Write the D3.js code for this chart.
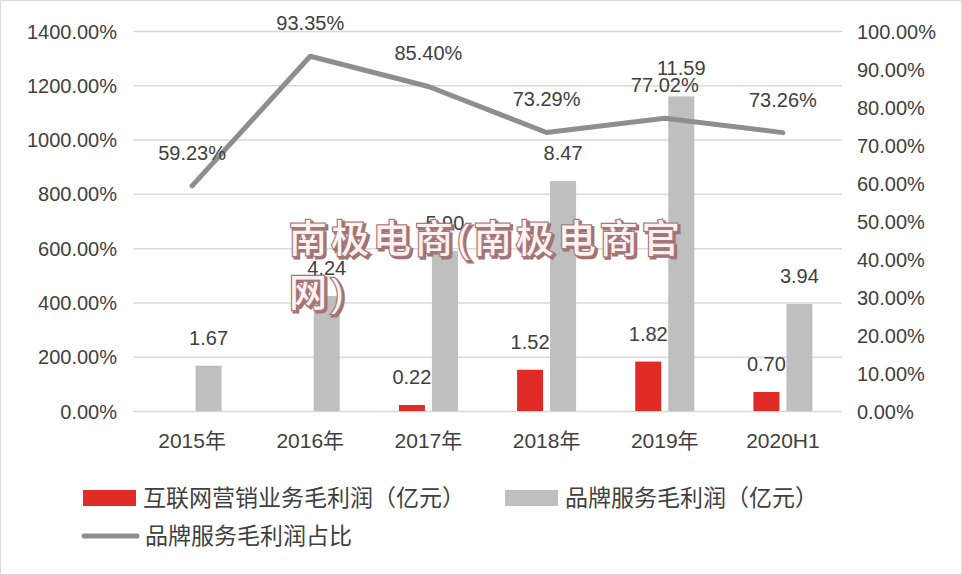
<!DOCTYPE html>
<html><head><meta charset="utf-8">
<script src="https://cdn.jsdelivr.net/npm/d3@7"></script>
<style>
body{margin:0;background:#fff;}
svg text{font-family:"Liberation Sans","Noto Sans CJK SC",sans-serif;fill:#404040;}
</style></head>
<body><svg id="c" width="962" height="575"></svg>
<script>
const categories = ["2015年","2016年","2017年","2018年","2019年","2020H1"];
const internetProfit = [0, 0, 0.22, 1.52, 1.82, 0.70];
const internetLabels = [null, null, "0.22", "1.52", "1.82", "0.70"];
const brandProfit = [1.67, 4.24, 5.90, 8.47, 11.59, 3.94];
const brandShare = [59.23, 93.35, 85.40, 73.29, 77.02, 73.26];
const leftTicks = [0,2,4,6,8,10,12,14];
const rightTicks = [0,10,20,30,40,50,60,70,80,90,100];
const seriesNames = ["互联网营销业务毛利润（亿元）","品牌服务毛利润（亿元）","品牌服务毛利润占比"];

const svg = d3.select("#c");
svg.append("rect").attr("x",0.5).attr("y",0.5).attr("width",961).attr("height",574)
  .attr("fill","#fff").attr("stroke","#d9d9d9");

const L=133, R=842, T=31, B=411;
const x = d3.scaleBand().domain(categories).range([L,R]);
const yL = d3.scaleLinear().domain([0,14]).range([B,T]);
const yR = d3.scaleLinear().domain([0,100]).range([B,T]);

svg.append("g").selectAll("line").data(leftTicks).join("line")
  .attr("x1",L).attr("x2",R).attr("y1",d=>yL(d)+0.5).attr("y2",d=>yL(d)+0.5)
  .attr("stroke","#d9d9d9").attr("stroke-width",1.5);

const axL = svg.append("g").attr("transform",`translate(${L-16},0)`)
  .call(d3.axisLeft(yL).tickValues(leftTicks).tickSize(0).tickPadding(0)
    .tickFormat(d=>d3.format(".2f")(d*100)+"%"));
axL.select(".domain").remove();
axL.selectAll("text").attr("font-size",20).attr("dy","0.35em");

const axR = svg.append("g").attr("transform",`translate(${R+15},0)`)
  .call(d3.axisRight(yR).tickValues(rightTicks).tickSize(0).tickPadding(0)
    .tickFormat(d=>d3.format(".2f")(d)+"%"));
axR.select(".domain").remove();
axR.selectAll("text").attr("font-size",20).attr("dy","0.35em");

const axX = svg.append("g").attr("transform",`translate(0,${B+30})`)
  .call(d3.axisBottom(x).tickSize(0).tickPadding(0));
axX.select(".domain").remove();
axX.selectAll("text").attr("font-size",21).attr("dy","0.35em");

const bw = 26, gap = 7;
const cx = d => x(d) + x.bandwidth()/2;

const rows = categories.map((c,i)=>({c, red:internetProfit[i], redLabel:internetLabels[i], gray:brandProfit[i], share:brandShare[i]}));

svg.append("g").selectAll("rect").data(rows).join("rect")
  .attr("x",d=>cx(d.c)-gap/2-bw).attr("width",bw)
  .attr("y",d=>yL(d.red)).attr("height",d=>B-yL(d.red))
  .attr("fill","#e02b27");
svg.append("g").selectAll("rect").data(rows).join("rect")
  .attr("x",d=>cx(d.c)+gap/2).attr("width",bw)
  .attr("y",d=>yL(d.gray)).attr("height",d=>B-yL(d.gray))
  .attr("fill","#bfbfbf");

svg.append("g").selectAll("text").data(rows.filter(d=>d.redLabel!==null)).join("text")
  .attr("x",d=>cx(d.c)-gap/2-bw/2).attr("y",d=>yL(d.red)-28)
  .attr("text-anchor","middle").attr("dy","0.35em").attr("font-size",20)
  .text(d=>d.redLabel);
svg.append("g").selectAll("text").data(rows).join("text")
  .attr("x",d=>cx(d.c)+gap/2+bw/2).attr("y",d=>yL(d.gray)-28)
  .attr("text-anchor","middle").attr("dy","0.35em").attr("font-size",20)
  .text(d=>d3.format(".2f")(d.gray));

const line = d3.line().x(d=>cx(d.c)).y(d=>yR(d.share));
svg.append("path").datum(rows).attr("d",line)
  .attr("fill","none").attr("stroke","#8e8e8e").attr("stroke-width",5)
  .attr("stroke-linejoin","round").attr("stroke-linecap","round");
svg.append("g").selectAll("text").data(rows).join("text")
  .attr("x",d=>cx(d.c)).attr("y",d=>yR(d.share)-33)
  .attr("text-anchor","middle").attr("dy","0.35em").attr("font-size",20)
  .text(d=>d3.format(".2f")(d.share)+"%");

const lg = svg.append("g");
lg.append("rect").attr("x",83).attr("y",490).attr("width",53).attr("height",16).attr("fill","#e02b27");
lg.append("text").attr("x",143).attr("y",498).attr("dy","0.35em").attr("font-size",23).text(seriesNames[0]);
lg.append("rect").attr("x",505).attr("y",490).attr("width",53).attr("height",16).attr("fill","#bfbfbf");
lg.append("text").attr("x",565).attr("y",498).attr("dy","0.35em").attr("font-size",23).text(seriesNames[1]);
lg.append("line").attr("x1",84).attr("x2",137).attr("y1",536).attr("y2",536)
  .attr("stroke","#8e8e8e").attr("stroke-width",5).attr("stroke-linecap","round");
lg.append("text").attr("x",145).attr("y",536).attr("dy","0.35em").attr("font-size",23).text(seriesNames[2]);

const wm = svg.append("g").attr("font-family","'Noto Sans CJK SC'").attr("font-weight",500)
  .attr("font-size",38).attr("letter-spacing",4);
[["南极电商(南极电商官",289,252],["网)",289,306]].forEach(([t,xx,yy])=>{
  wm.append("text").attr("x",xx+2).attr("y",yy+2).text(t)
    .style("fill","#a07474").attr("stroke","#a07474").attr("stroke-width",3);
  wm.append("text").attr("x",xx).attr("y",yy).text(t)
    .style("fill","#fdf2f2").attr("stroke","#a87878").attr("stroke-width",2.5).attr("paint-order","stroke");
});
</script></body></html>
